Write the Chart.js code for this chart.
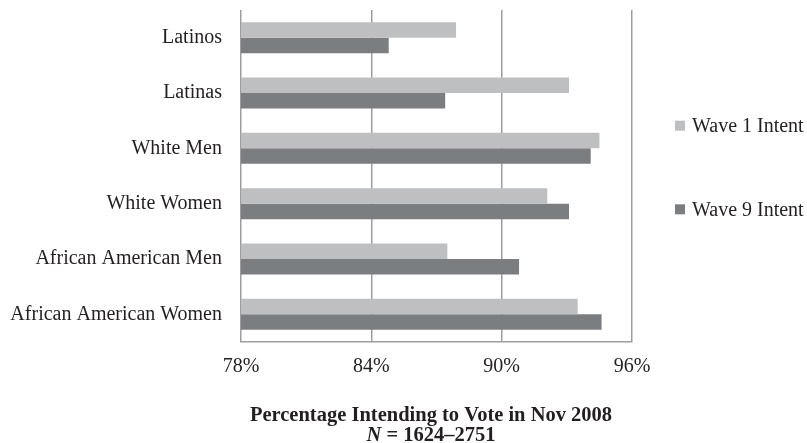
<!DOCTYPE html>
<html>
<head>
<meta charset="utf-8">
<script src="https://cdn.jsdelivr.net/npm/chart.js@4.4.0/dist/chart.umd.min.js"></script>
<style>
  html, body { margin: 0; padding: 0; background: #fff; }
  #wrap { position: relative; width: 807px; height: 443px; }
</style>
</head>
<body>
<div id="wrap"><canvas id="chartVoto"></canvas></div>
<script>
const categorias = ['Latinos', 'Latinas', 'White Men', 'White Women', 'African American Men', 'African American Women'];
const wave1 = [87.9, 93.1, 94.5, 92.1, 87.5, 93.5];
const wave9 = [84.8, 87.4, 94.1, 93.1, 90.8, 94.6];
const seriesNames = ['Wave 1 Intent', 'Wave 9 Intent'];
const xTicks = [78, 84, 90, 96];
const tituloX = 'Percentage Intending to Vote in Nov 2008';
const tituloN = ' = 1624–2751';

const FONT = "'Liberation Serif', 'Times New Roman', serif";

// leyenda a la derecha, como en el original
const sideLegend = {
  id: 'sideLegend',
  afterDraw(chart) {
    const ctx = chart.ctx;
    const ys = [125.7, 209.3];
    ctx.save();
    ctx.font = '20px ' + FONT;
    ctx.textBaseline = 'middle';
    ctx.textAlign = 'left';
    chart.data.datasets.forEach((ds, i) => {
      ctx.fillStyle = ds.backgroundColor;
      ctx.fillRect(675, ys[i] - 5, 10, 10);
      ctx.fillStyle = '#231f20';
      ctx.fillText(ds.label, 692, ys[i] + 1);
    });
    ctx.restore();
  }
};

// titulo del eje x con la N en cursiva
const axisTitle = {
  id: 'axisTitle',
  afterDraw(chart) {
    const ctx = chart.ctx;
    const cx = 431;
    ctx.save();
    ctx.fillStyle = '#231f20';
    ctx.textBaseline = 'alphabetic';
    ctx.textAlign = 'center';
    ctx.font = 'bold 20.5px ' + FONT;
    ctx.fillText(tituloX, cx, 421);
    ctx.textAlign = 'left';
    ctx.font = 'italic bold 20.5px ' + FONT;
    const wN = ctx.measureText('N').width;
    ctx.font = 'bold 20.5px ' + FONT;
    const wR = ctx.measureText(tituloN).width;
    let x = cx - (wN + wR) / 2;
    ctx.font = 'italic bold 20.5px ' + FONT;
    ctx.fillText('N', x, 441);
    ctx.font = 'bold 20.5px ' + FONT;
    ctx.fillText(tituloN, x + wN, 441);
    ctx.restore();
  }
};

new Chart(document.getElementById('chartVoto').getContext('2d'), {
  type: 'bar',
  data: {
    labels: categorias,
    datasets: [
      {
        label: seriesNames[0],
        data: wave1,
        backgroundColor: '#bebfc1',
        borderWidth: 0
      },
      {
        label: seriesNames[1],
        data: wave9,
        backgroundColor: '#7b7e81',
        borderWidth: 0
      }
    ]
  },
  options: {
    indexAxis: 'y',
    responsive: true,
    maintainAspectRatio: false,
    animation: false,
    layout: { padding: { top: 10, right: 175, left: 0, bottom: 0 } },
    datasets: {
      bar: { categoryPercentage: 0.56, barPercentage: 1 }
    },
    plugins: {
      legend: { display: false },
      tooltip: { enabled: false }
    },
    scales: {
      x: {
        min: 78,
        max: 96,
        afterBuildTicks: scale => { scale.ticks = xTicks.map(v => ({ value: v })); },
        afterFit: scale => { scale.height = 101; },
        ticks: {
          padding: 13,
          color: '#231f20',
          font: { family: FONT, size: 20 },
          callback: v => v + '%'
        },
        grid: { color: '#9d9d9d', lineWidth: 1.5, drawTicks: false },
        border: { display: true, color: '#9d9d9d', width: 1.5 }
      },
      y: {
        afterFit: scale => {
          scale.width = 241;
          scale.paddingTop = 0;
          scale.paddingBottom = 0;
        },
        ticks: {
          padding: 19,
          color: '#231f20',
          font: { family: FONT, size: 20 }
        },
        grid: { display: false, drawTicks: false },
        border: { display: false }
      }
    }
  },
  plugins: [sideLegend, axisTitle]
});
</script>
</body>
</html>
